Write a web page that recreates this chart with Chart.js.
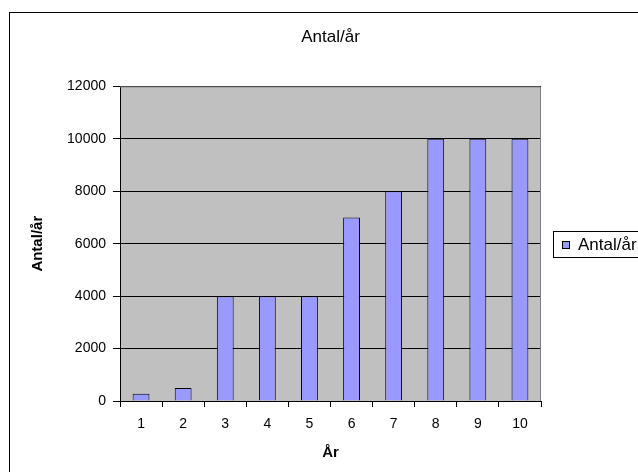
<!DOCTYPE html>
<html>
<head>
<meta charset="utf-8">
<script src="https://cdn.jsdelivr.net/npm/chart.js@4/dist/chart.umd.min.js"></script>
<style>
  html, body { margin: 0; padding: 0; background: #fff; }
  #wrap { width: 638px; height: 472px; }
</style>
</head>
<body>
<div id="wrap"><canvas id="myChart" width="638" height="472"></canvas></div>
<script>
// data
var years = ['1', '2', '3', '4', '5', '6', '7', '8', '9', '10'];
var antal = [280, 500, 4000, 4000, 4000, 7000, 8000, 10000, 10000, 10000];
var seriesName = 'Antal/år';
var yTicks = [0, 2000, 4000, 6000, 8000, 10000, 12000];

var font = 'Liberation Sans, Arial, sans-serif';

// outer frame + grey plot background, excel style
var framePlugin = {
    id: 'frame',
    beforeDraw: function(chart) {
        var ctx = chart.ctx;
        var a = chart.chartArea;
        ctx.save();
        ctx.fillStyle = '#fff';
        ctx.fillRect(0, 0, chart.width, chart.height);
        ctx.strokeStyle = '#000';
        ctx.lineWidth = 1;
        ctx.strokeRect(9.5, 12.5, chart.width + 20, chart.height + 20);
        ctx.fillStyle = '#c0c0c0';
        ctx.fillRect(a.left, a.top, a.right - a.left, a.bottom - a.top);
        ctx.restore();
    },
    afterDatasetsDraw: function(chart) {
        var ctx = chart.ctx;
        var a = chart.chartArea;
        ctx.save();
        ctx.strokeStyle = '#808080';
        ctx.lineWidth = 1;
        ctx.beginPath();
        ctx.moveTo(a.left, a.top + 0.5);
        ctx.lineTo(a.right - 0.5, a.top + 0.5);
        ctx.lineTo(a.right - 0.5, a.bottom);
        ctx.stroke();
        ctx.restore();
    },
    afterDraw: function(chart) {
        // legend box on the right
        var ctx = chart.ctx;
        var a = chart.chartArea;
        var ds = chart.data.datasets[0];
        var cy = Math.round((a.top + a.bottom) / 2);
        var x0 = 553, w = 90, h = 26;
        ctx.save();
        ctx.fillStyle = '#fff';
        ctx.fillRect(x0, cy - h / 2, w, h);
        ctx.strokeStyle = '#000';
        ctx.lineWidth = 1;
        ctx.strokeRect(x0 + 0.5, cy - h / 2 + 0.5, w, h);
        ctx.fillStyle = ds.backgroundColor;
        ctx.fillRect(x0 + 9.5, cy - 2.5, 7, 7);
        ctx.strokeRect(x0 + 9.5, cy - 2.5, 7, 7);
        ctx.fillStyle = '#000';
        ctx.font = '17px ' + font;
        ctx.textBaseline = 'middle';
        ctx.fillText(ds.label, x0 + 25, cy + 1);
        ctx.restore();
    }
};

var data_things = {
    labels: years,
    datasets: [{
        label: seriesName,
        backgroundColor: '#9999ff',
        borderColor: '#000',
        borderWidth: 1,
        borderSkipped: 'bottom',
        categoryPercentage: 1.0,
        barPercentage: 0.4,
        data: antal
    }]
};

var config = {
    type: 'bar',
    data: data_things,
    plugins: [framePlugin],
    options: {
        responsive: false,
        animation: false,
        layout: { padding: { left: 0, right: 97, top: 0, bottom: 0 } },
        plugins: {
            legend: { display: false },
            tooltip: { enabled: false },
            title: {
                display: true,
                text: seriesName,
                fullSize: false,
                color: '#000',
                font: { family: font, size: 17, weight: 'normal' },
                padding: { top: 27, bottom: 39 }
            }
        },
        scales: {
            x: {
                offset: true,
                afterFit: function(scale) { scale.height = 71; },
                grid: {
                    offset: true,
                    drawOnChartArea: false,
                    color: '#000',
                    tickLength: 6
                },
                border: { color: '#000' },
                ticks: {
                    color: '#000',
                    font: { family: font, size: 14 },
                    padding: 9
                },
                title: {
                    display: true,
                    text: 'År',
                    color: '#000',
                    font: { family: font, size: 15, weight: 'bold' },
                    padding: { top: 4, bottom: 10 }
                }
            },
            y: {
                min: 0,
                max: 12000,
                afterFit: function(scale) { scale.width = 120; },
                afterBuildTicks: function(scale) {
                    scale.ticks = yTicks.map(function(v) { return { value: v }; });
                },
                grid: {
                    color: '#000',
                    tickLength: 7
                },
                border: { color: '#000' },
                ticks: {
                    color: '#000',
                    font: { family: font, size: 14 },
                    padding: 7,
                    callback: function(value) { return String(value); }
                },
                title: {
                    display: true,
                    text: seriesName,
                    color: '#000',
                    font: { family: font, size: 15, weight: 'bold' },
                    padding: { top: 29, bottom: 0 }
                }
            }
        }
    }
};

var myChart = new Chart(document.getElementById('myChart'), config);
</script>
</body>
</html>
